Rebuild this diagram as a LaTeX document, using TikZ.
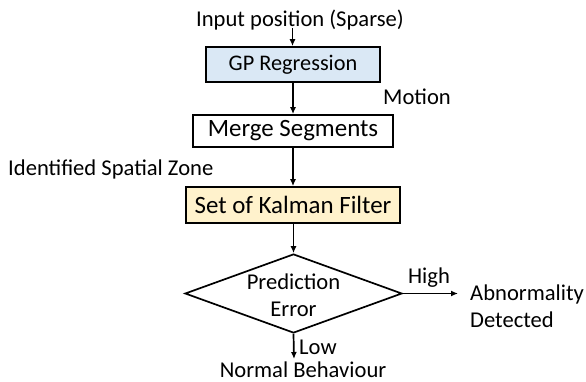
\documentclass[tikz,border=0pt]{standalone}
\usepackage{fontspec}
\setmainfont{Carlito}
\usetikzlibrary{shapes.geometric,arrows.meta}
\definecolor{gpblue}{HTML}{DAE8F5}
\definecolor{kfyellow}{HTML}{FFF2CC}
\begin{document}
\begin{tikzpicture}[x=1pt,y=-1pt,
  txt/.style={inner sep=0pt,font=\fontsize{22.6}{27}\selectfont},
  box/.style={draw,line width=1.7pt,inner sep=0pt},
  arr/.style={line width=1.7pt,-{Latex[length=7pt,width=6pt]}}]
\useasboundingbox (0,0) rectangle (586,382);
\node[txt] (in) at (300,20) {Input position (Sparse)};
\node[box,fill=gpblue,minimum width=174pt,minimum height=35pt,font=\fontsize{22.3}{26}\selectfont] (gp) at (293,64.5) {GP Regression};
\node[txt,anchor=west] (mot) at (383,97) {Motion};
\node[box,minimum width=200pt,minimum height=32pt,font=\fontsize{24.9}{29}\selectfont] (ms) at (293,131) {Merge Segments};
\node[txt,anchor=west] (isz) at (8,169) {Identified Spatial Zone};
\node[box,fill=kfyellow,minimum width=214pt,minimum height=36pt,font=\fontsize{24.9}{29}\selectfont] (kf) at (293,205) {Set of Kalman Filter};
\node[draw,line width=1.7pt,diamond,inner sep=0pt,minimum width=217pt,minimum height=79pt] (pe) at (293.5,293.5) {};
\node[txt,align=center] (pet) at (293.5,295) {Prediction\\[0pt]Error};
\coordinate (hi) at (458,293.5);
\node[txt,anchor=south] (high) at (429,288) {High};
\node[txt,anchor=west,align=left] (ab) at (470,306) {Abnormality\\Detected};
\coordinate (lo) at (294,359);
\node[txt,anchor=west] (low) at (299,347) {Low};
\node[txt] (nb) at (303,370) {Normal Behaviour};
\draw[arr] (292.5,28) -- (gp.north -| 292.5,0);
\draw[arr] (gp) -- (ms);
\draw[arr] (ms) -- (kf);
\draw[arr] (kf.south -| pe.north) -- (pe.north);
\draw[arr] (pe.east) -- (hi);
\draw[arr] (pe.south) -- (lo);
\end{tikzpicture}
\end{document}
